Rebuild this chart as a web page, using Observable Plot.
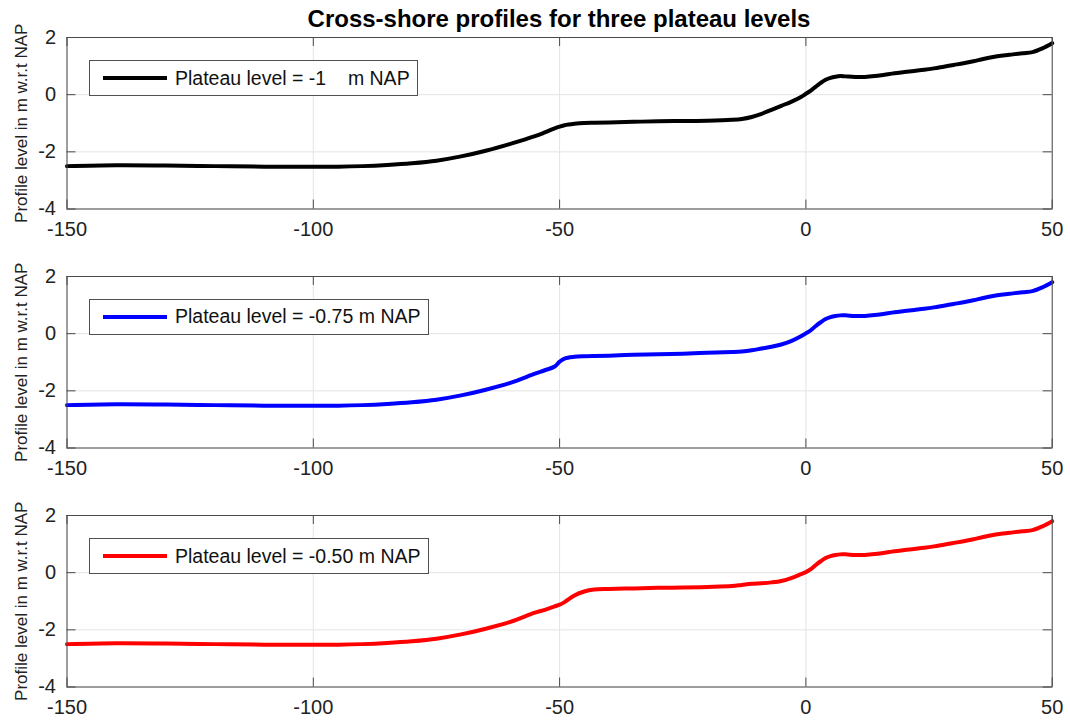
<!DOCTYPE html>
<html>
<head>
<meta charset="utf-8">
<script src="https://cdn.jsdelivr.net/npm/d3@7"></script>
<script src="https://cdn.jsdelivr.net/npm/@observablehq/plot@0.6"></script>
<style>
  html, body { margin: 0; padding: 0; background: #fff; }
  #root { position: relative; width: 1070px; height: 722px; overflow: hidden; font-family: "Liberation Sans", Arial, sans-serif; }
  .title { position: absolute; left: 0; top: 5px; width: 1118px; text-align: center; font-weight: bold; font-size: 24px; color: #000; line-height: normal; }
  .panel { position: absolute; left: 0; width: 1070px; }
  .panel svg { overflow: visible; }
  .legend { position: absolute; left: 88.8px; height: 36px; box-sizing: border-box; border: 1px solid #505050; background: #fff;
            display: flex; align-items: center; padding-right: 7px; font-size: 19.5px; color: #111; white-space: pre; }
  .legend .sw { display: inline-block; width: 64.4px; height: 4px; margin-left: 12.8px; margin-right: 8px; }
</style>
</head>
<body>
<div id="root"></div>
<script>
// ---- data ----
const titleText = "Cross-shore profiles for three plateau levels";
const yLabel = "Profile level in m w.r.t NAP";
const xTicks = [-150, -100, -50, 0, 50];
const yTicks = [-4, -2, 0, 2];
const seriesNames = ["Plateau level = -1    m NAP", "Plateau level = -0.75 m NAP", "Plateau level = -0.50 m NAP"];
const seriesColors = ["#000000", "#0000ff", "#ff0000"];

const xs = [-150,-140,-130,-120,-110,-100,-95,-90,-85,-80,-75,-70,-65,-60,-55,-53,-51,-50,-49,-47,-45,-43,-40,-35,-30,-25,-20,-15,-13,-11,-9,-7,-5,-3,-1,0,1,2,3,4,5,6,7,8,10,12,14,16,18,20,22,24,26,28,30,32,34,36,38,40,42,44,46,48,50];

const yBlack = [-2.50,-2.47,-2.48,-2.50,-2.52,-2.52,-2.52,-2.50,-2.46,-2.40,-2.31,-2.16,-1.96,-1.72,-1.45,-1.32,-1.18,-1.12,-1.07,-1.02,-0.99,-0.98,-0.97,-0.95,-0.93,-0.92,-0.91,-0.88,-0.85,-0.78,-0.67,-0.53,-0.39,-0.25,-0.08,0.03,0.14,0.28,0.41,0.52,0.59,0.63,0.65,0.64,0.62,0.62,0.65,0.70,0.75,0.79,0.83,0.87,0.92,0.98,1.04,1.10,1.17,1.25,1.32,1.37,1.41,1.45,1.49,1.62,1.80];

const yBlue = [-2.50,-2.47,-2.48,-2.50,-2.52,-2.52,-2.52,-2.50,-2.46,-2.40,-2.31,-2.16,-1.96,-1.72,-1.40,-1.28,-1.15,-0.98,-0.87,-0.81,-0.79,-0.78,-0.77,-0.74,-0.72,-0.70,-0.67,-0.64,-0.62,-0.58,-0.52,-0.46,-0.38,-0.26,-0.09,0.01,0.12,0.27,0.40,0.51,0.58,0.62,0.64,0.64,0.62,0.62,0.65,0.70,0.75,0.79,0.83,0.87,0.92,0.98,1.04,1.10,1.17,1.25,1.32,1.37,1.41,1.45,1.49,1.62,1.80];

const yRed = [-2.50,-2.47,-2.48,-2.50,-2.52,-2.52,-2.52,-2.50,-2.46,-2.40,-2.31,-2.16,-1.96,-1.72,-1.40,-1.30,-1.18,-1.12,-1.03,-0.80,-0.66,-0.59,-0.57,-0.55,-0.53,-0.52,-0.50,-0.47,-0.43,-0.39,-0.37,-0.34,-0.29,-0.19,-0.05,0.02,0.12,0.27,0.40,0.51,0.58,0.62,0.64,0.64,0.62,0.62,0.65,0.70,0.75,0.79,0.83,0.87,0.92,0.98,1.04,1.10,1.17,1.25,1.32,1.37,1.41,1.45,1.49,1.62,1.80];

const seriesValues = [yBlack, yBlue, yRed];

// ---- layout ----
const W = 1070, H = 246, mL = 66.5, mR = 18.3, mT = 37, mB = 37.5;
const innerW = W - mL - mR, innerH = H - mT - mB;
const panelTops = [0, 238.5, 478];
const axisColor = "#4a4a4a";

const root = document.getElementById("root");
const t = document.createElement("div");
t.className = "title";
t.textContent = titleText;
root.appendChild(t);

seriesValues.forEach((ys, k) => {
  const data = xs.map((x, i) => ({x, y: ys[i]}));
  const chart = Plot.plot({
    width: W, height: H,
    marginLeft: mL, marginRight: mR, marginTop: mT, marginBottom: mB,
    x: {domain: [-150, 50]},
    y: {domain: [-4, 2]},
    style: {fontFamily: "'Liberation Sans', Arial, sans-serif", color: "#222", background: "transparent", overflow: "visible"},
    marks: [
      Plot.gridX(xTicks, {stroke: "#e4e4e4", strokeOpacity: 1}),
      Plot.gridY(yTicks, {stroke: "#e4e4e4", strokeOpacity: 1}),
      Plot.line(data, {x: "x", y: "y", stroke: seriesColors[k], strokeWidth: 4, curve: "catmull-rom"}),
      Plot.tickX(xTicks, {x: d => d, insetTop: innerH - 9, stroke: axisColor}),
      Plot.tickX(xTicks, {x: d => d, insetBottom: innerH - 9, stroke: axisColor}),
      Plot.tickY(yTicks, {y: d => d, insetLeft: innerW - 9, stroke: axisColor}),
      Plot.tickY(yTicks, {y: d => d, insetRight: innerW - 9, stroke: axisColor}),
      Plot.axisX(xTicks, {tickSize: 0, tickPadding: 13, label: null, fontSize: 20, tickFormat: d => String(d)}),
      Plot.axisY(yTicks, {tickSize: 0, tickPadding: 11, label: null, fontSize: 20, tickFormat: d => String(d)}),
      Plot.text([yLabel], {text: d => d, frameAnchor: "left", rotate: -90, dx: -45.8, fontSize: 17, fill: "#222", textAnchor: "middle"}),
      Plot.frame({stroke: axisColor})
    ]
  });
  const wrap = document.createElement("div");
  wrap.className = "panel";
  wrap.style.top = panelTops[k] + "px";
  wrap.style.height = H + "px";
  wrap.appendChild(chart);
  const lg = document.createElement("div");
  lg.className = "legend";
  lg.style.top = (mT + 23.3) + "px";
  const sw = document.createElement("span");
  sw.className = "sw";
  sw.style.background = seriesColors[k];
  const tx = document.createElement("span");
  tx.textContent = seriesNames[k];
  lg.appendChild(sw);
  lg.appendChild(tx);
  wrap.appendChild(lg);
  root.appendChild(wrap);
});
</script>
</body>
</html>
